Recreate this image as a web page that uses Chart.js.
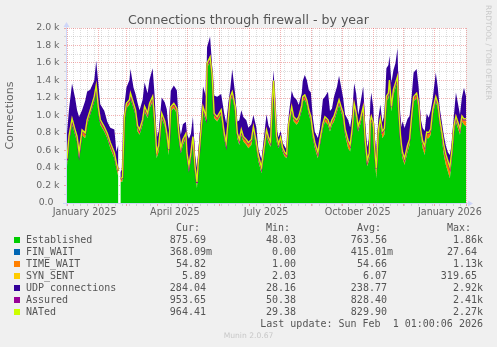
<!DOCTYPE html>
<html>
<head>
<meta charset="utf-8">
<title>Connections through firewall - by year</title>
<script src="https://cdn.jsdelivr.net/npm/chart.js@4.4.1/dist/chart.umd.min.js"></script>
<style>
  html, body { margin: 0; padding: 0; background: #f0f0f0; }
  #wrap { position: relative; width: 497px; height: 347px; overflow: hidden; }
  #graph { position: absolute; left: 0; top: 0; }
  #title {
    position: absolute; left: 0; top: 14px; width: 497px; text-align: center;
    font: 12.6px/12.6px "DejaVu Sans", sans-serif; color: #555;
  }
  #brand {
    position: absolute; left: 492px; top: 5px; transform: rotate(90deg); transform-origin: 0 0;
    font: 7.4px/8px "DejaVu Sans", sans-serif; color: #c8c8c8; white-space: nowrap;
  }
  .row {
    position: absolute; left: 0; width: 497px; height: 12px;
    font: 10px/12px "DejaVu Sans Mono", monospace; color: #555; white-space: pre;
  }
  .row span { position: absolute; top: 0; white-space: pre; }
  .swatch { position: absolute; left: 14px; top: 3.5px; width: 6px; height: 6px; }
  #munin {
    position: absolute; left: 0; width: 497px; top: 331px; text-align: center;
    font: 7.6px/10px "DejaVu Sans", sans-serif; color: #c8c8c8;
  }
</style>
</head>
<body>
<div id="wrap">
  <canvas id="graph" width="497" height="347"></canvas>
  <div id="title">Connections through firewall - by year</div>
  <div id="brand">RRDTOOL / TOBI OETIKER</div>
  <div id="legend"></div>
  <div id="munin">Munin 2.0.67</div>
</div>
<script>
// day 0 = 1 January 2025, day 396 = 1 February 2026
const days = [
  0, 2, 5, 8, 10, 12, 15, 18, 20, 23,
  27, 29, 31, 33, 37, 40, 43, 47, 49, 51,
  52, 53, 55, 57, 59, 62, 63, 66, 68, 70,
  72, 75, 77, 80, 82, 85, 87, 89, 91, 94,
  97, 99, 101, 103, 106, 109, 111, 113, 115, 118,
  119, 121, 123, 125, 127, 129, 130, 133, 135, 138,
  139, 142, 144, 146, 149, 151, 153, 156, 158, 160,
  162, 164, 167, 169, 171, 173, 175, 178, 180, 183,
  185, 188, 190, 193, 195, 198, 200, 202, 204, 205,
  206, 208, 210, 212, 214, 216, 218, 220, 223, 225,
  228, 230, 233, 234, 236, 238, 240, 242, 244, 246,
  249, 251, 254, 256, 259, 261, 263, 265, 268, 270,
  272, 274, 276, 279, 281, 283, 285, 287, 289, 291,
  294, 296, 298, 300, 301, 302, 304, 305, 307, 309,
  311, 313, 315, 317, 319, 320, 322, 324, 326, 328,
  329, 331, 332, 333, 335, 338, 340, 342, 344, 347,
  349, 351, 353, 355, 357, 359, 361, 363, 366, 368,
  370, 372, 374, 376, 378, 380, 382, 384, 386, 388,
  390, 392, 394, 396
];

const established = [
  420, 700, 900, 780, 700, 511, 778, 740, 893, 1008,
  1160, 1294, 1046, 893, 817, 740, 626, 511, 397, 300,
  null, 240, 244, 931, 1084, 1122, 1198, 1084, 1008, 817,
  779, 893, 1046, 970, 1084, 1160, 893, 511, 588, 970,
  880, 740, 550, 1046, 1084, 1027, 740, 569, 664, 740,
  511, 359, 511, 702, 359, 168, 359, 779, 1046, 931,
  1542, 1618, 1428, 970, 931, 970, 1008, 740, 626, 893,
  1160, 1218, 1046, 740, 664, 779, 702, 664, 626, 664,
  817, 626, 473, 340, 511, 779, 690, 640, 1150, 1351,
  1122, 702, 626, 700, 588, 531, 511, 855, 1046, 931,
  893, 931, 1061, 1160, 1179, 1122, 1008, 931, 740, 626,
  511, 664, 855, 931, 893, 817, 893, 931, 1046, 1122,
  1046, 970, 779, 626, 588, 779, 1084, 970, 817, 893,
  1046, 650, 420, 500, 880, 931, 855, 588, 282, 740,
  893, 740, 779, 1160, 1198, 1351, 1046, 1237, 1313, 1389,
  1046, 702, 588, 511, 435, 588, 664, 931, 1160, 1198,
  1084, 779, 626, 550, 740, 740, 779, 1008, 1160, 1084,
  893, 740, 550, 435, 359, 282, 511, 817, 931, 855,
  779, 931, 893, 876
];

const finWait = [
  0.5, 0.4, 0.3, 0.4, 0.6, 0.4, 0.3, 0.4, 0.5, 0.4,
  0.3, 0.4, 0.4, 0.5, 0.4, 0.3, 0.4, 0.4, 0.6, 0.4,
  null, 0.3, 0.4, 0.5, 0.4, 0.4, 0.3, 0.4, 0.5, 0.4,
  0.4, 0.3, 0.5, 0.4, 0.4, 0.6, 0.4, 0.3, 0.4, 0.4,
  0.5, 0.4, 0.3, 0.4, 0.4, 0.5, 0.4, 0.4, 0.3, 0.4,
  0.4, 0.5, 0.4, 0.3, 0.4, 0.6, 0.4, 0.4, 0.5, 0.4,
  0.3, 0.4, 0.4, 0.5, 0.4, 0.3, 0.4, 0.4, 0.5, 0.4,
  0.4, 0.3, 0.4, 0.5, 0.4, 0.4, 0.3, 0.4, 0.6, 0.4,
  0.4, 0.5, 0.4, 0.3, 0.4, 0.4, 0.5, 0.4, 0.3, 0.4,
  0.4, 0.4, 0.5, 0.4, 0.3, 0.4, 0.4, 0.5, 0.4, 0.4,
  0.3, 0.4, 0.5, 0.4, 0.4, 0.3, 0.4, 0.5, 0.4, 0.4,
  0.4, 0.3, 0.4, 0.5, 0.4, 0.4, 0.6, 0.4, 0.3, 0.4,
  0.4, 0.5, 0.4, 0.4, 0.3, 0.4, 0.5, 0.4, 0.4, 0.3,
  0.4, 0.4, 0.5, 0.4, 0.3, 0.4, 0.4, 0.5, 0.4, 0.4,
  0.3, 0.4, 0.4, 0.5, 0.4, 0.4, 0.3, 0.4, 0.5, 0.4,
  0.4, 0.3, 0.4, 0.4, 0.5, 0.4, 0.4, 0.3, 0.4, 0.5,
  0.4, 0.4, 0.3, 0.4, 0.5, 0.4, 0.4, 0.3, 0.4, 0.4,
  0.5, 0.4, 0.3, 0.4, 0.4, 0.5, 0.4, 0.4, 0.3, 0.4,
  0.4, 0.4, 0.3, 0.37
];

const timeWait = [
  70, 55, 50, 45, 50, 60, 45, 50, 45, 40,
  45, 40, 50, 50, 45, 45, 50, 55, 50, 60,
  null, 30, 35, 50, 45, 45, 45, 45, 45, 55,
  50, 45, 45, 45, 45, 45, 50, 70, 60, 45,
  45, 50, 55, 45, 45, 45, 50, 50, 50, 45,
  55, 60, 55, 50, 55, 60, 55, 45, 45, 45,
  40, 40, 35, 45, 45, 45, 45, 50, 50, 45,
  40, 40, 45, 50, 50, 50, 50, 50, 55, 50,
  45, 55, 55, 60, 55, 45, 50, 50, 40, 40,
  45, 50, 40, 40, 35, 40, 35, 40, 45, 45,
  45, 45, 45, 45, 45, 45, 50, 50, 55, 55,
  60, 50, 45, 45, 50, 50, 50, 50, 45, 45,
  45, 50, 60, 80, 70, 55, 45, 50, 50, 50,
  45, 55, 60, 60, 45, 45, 50, 80, 100, 80,
  60, 70, 60, 45, 45, 45, 50, 45, 45, 45,
  50, 55, 60, 60, 65, 60, 55, 45, 45, 45,
  45, 50, 70, 90, 60, 55, 55, 45, 45, 45,
  50, 60, 100, 110, 110, 120, 80, 55, 50, 55,
  60, 55, 60, 55
];

const synSent = [
  6.2, 5.9, 6.1, 6.4, 5.8, 6.0, 6.3, 5.9, 6.1, 6.0,
  5.8, 6.2, 6.0, 6.1, 5.9, 6.3, 6.0, 5.8, 6.2, 6.1,
  null, 5.9, 6.0, 6.2, 6.1, 5.8, 6.0, 6.3, 5.9, 6.1,
  6.0, 6.2, 5.9, 6.1, 6.0, 5.8, 6.2, 6.4, 6.0, 6.1,
  5.9, 6.0, 6.2, 6.1, 5.8, 6.0, 6.3, 5.9, 6.1, 6.0,
  6.2, 6.0, 5.9, 6.1, 6.0, 6.3, 5.8, 6.1, 6.0, 6.2,
  5.9, 6.1, 6.0, 6.2, 5.8, 6.0, 6.1, 6.3, 5.9, 6.0,
  6.1, 6.0, 6.2, 5.9, 6.1, 6.0, 5.8, 6.2, 6.0, 6.1,
  6.0, 6.2, 5.9, 6.1, 6.3, 6.0, 5.8, 6.1, 6.0, 6.2,
  5.9, 6.0, 6.1, 6.2, 5.8, 6.0, 6.1, 5.9, 6.3, 6.0,
  6.1, 6.0, 6.2, 5.9, 6.1, 6.0, 5.8, 6.2, 6.0, 6.1,
  6.0, 6.3, 5.9, 6.1, 6.0, 6.2, 5.8, 6.1, 6.0, 6.2,
  5.9, 6.1, 6.0, 6.2, 6.4, 6.0, 6.1, 5.9, 6.0, 6.2,
  6.1, 6.0, 5.8, 6.2, 6.0, 6.1, 5.9, 6.3, 6.5, 6.1,
  6.0, 6.2, 5.9, 6.1, 6.0, 5.8, 6.2, 6.0, 6.1, 6.0,
  6.2, 5.9, 6.1, 6.0, 6.3, 5.8, 6.1, 6.0, 6.2, 5.9,
  6.1, 6.0, 6.2, 6.4, 6.0, 6.1, 5.9, 6.0, 6.2, 6.1,
  6.0, 5.8, 6.3, 6.4, 6.2, 6.5, 6.1, 6.0, 5.9, 6.1,
  6.0, 6.2, 5.9, 5.89
];

const udp = [
  303, 309, 409, 371, 303, 405, 234, 370, 329, 239,
  185, 286, 274, 179, 185, 138, 179, 269, 131, 303,
  null, 78, 104, 131, 185, 233, 281, 185, 185, 268,
  226, 233, 280, 233, 280, 329, 274, 154, 166, 184,
  221, 275, 220, 185, 209, 209, 131, 154, 179, 138,
  220, 309, 220, 226, 124, 166, 124, 136, 233, 233,
  191, 239, 101, 208, 233, 208, 185, 228, 226, 185,
  96, 263, 138, 131, 226, 226, 226, 226, 173, 179,
  138, 173, 78, 94, 125, 185, 140, 140, 140, 120,
  138, 84, 79, 78, 60, 71, 55, 96, 185, 233,
  233, 138, 143, 185, 233, 233, 226, 275, 173, 125,
  166, 131, 280, 233, 323, 179, 131, 226, 233, 280,
  233, 178, 166, 236, 201, 173, 233, 226, 131, 179,
  233, 184, 153, 178, 221, 281, 179, 141, 164, 141,
  166, 106, 166, 329, 329, 280, 274, 233, 233, 329,
  226, 220, 214, 358, 351, 309, 268, 233, 281, 281,
  185, 130, 154, 176, 215, 173, 220, 136, 281, 185,
  131, 119, 115, 104, 104, 139, 94, 125, 275, 220,
  166, 220, 358, 284
];

const assured = [
  490, 755, 950, 825, 752, 570, 830, 795, 940, 1050,
  1200, 1330, 1100, 945, 860, 790, 680, 570, 450, 365,
  null, 275, 285, 985, 1135, 1170, 1250, 1130, 1055, 880,
  830, 945, 1095, 1020, 1135, 1210, 945, 590, 650, 1020,
  930, 795, 610, 1095, 1135, 1075, 795, 625, 720, 790,
  570, 420, 570, 755, 420, 230, 420, 830, 1095, 980,
  1585, 1660, 1465, 1020, 980, 1020, 1055, 795, 680, 945,
  1205, 1260, 1095, 795, 720, 835, 755, 720, 685, 720,
  865, 685, 535, 405, 570, 830, 745, 695, 1195, 1395,
  1170, 760, 670, 745, 630, 575, 550, 900, 1095, 980,
  945, 980, 1110, 1210, 1230, 1170, 1060, 985, 800, 685,
  575, 720, 905, 980, 945, 870, 945, 985, 1095, 1170,
  1095, 1025, 840, 710, 660, 840, 1135, 1025, 870, 945,
  1095, 710, 485, 565, 930, 985, 910, 675, 390, 825,
  960, 815, 845, 1210, 1250, 1400, 1100, 1290, 1365, 1440,
  1100, 765, 655, 575, 505, 655, 725, 980, 1210, 1250,
  1135, 835, 700, 645, 805, 800, 840, 1060, 1210, 1135,
  950, 805, 655, 550, 475, 405, 595, 875, 985, 915,
  845, 990, 955, 954
];

const nated = [
  505, 768, 965, 838, 760, 580, 835, 800, 950, 1060,
  1215, 1345, 1105, 955, 870, 795, 690, 575, 455, 370,
  null, 280, 290, 990, 1140, 1180, 1255, 1140, 1065, 885,
  840, 950, 1105, 1025, 1140, 1220, 955, 585, 655, 1025,
  935, 800, 615, 1100, 1140, 1080, 800, 630, 725, 795,
  575, 430, 575, 760, 425, 240, 425, 835, 1100, 990,
  1595, 1670, 1470, 1025, 985, 1025, 1065, 800, 690, 950,
  1210, 1270, 1100, 800, 725, 840, 760, 725, 690, 725,
  870, 690, 540, 410, 575, 835, 750, 700, 1200, 1400,
  1175, 765, 675, 750, 635, 580, 555, 905, 1100, 985,
  950, 985, 1115, 1215, 1235, 1175, 1065, 990, 805, 690,
  580, 725, 910, 985, 950, 875, 950, 990, 1100, 1180,
  1100, 1030, 845, 715, 665, 845, 1140, 1030, 875, 950,
  1100, 715, 490, 570, 935, 990, 915, 680, 395, 830,
  965, 820, 850, 1220, 1255, 1405, 1105, 1295, 1370, 1445,
  1105, 770, 660, 580, 510, 660, 730, 985, 1215, 1255,
  1140, 840, 705, 650, 810, 805, 845, 1065, 1215, 1140,
  955, 810, 660, 555, 480, 410, 600, 880, 990, 920,
  850, 995, 960, 964
];

// legend table
const seriesNames = ['Established', 'FIN_WAIT', 'TIME_WAIT', 'SYN_SENT', 'UDP connections', 'Assured', 'NATed'];
const seriesColors = ['#00CC00', '#0066B3', '#FF8000', '#FFCC00', '#330099', '#990099', '#CCFF00'];
const curValues = ['875.69 ', '368.09m', '54.82 ', '5.89 ', '284.04 ', '953.65 ', '964.41 '];
const minValues = ['48.03 ', '0.00 ', '1.00 ', '2.03 ', '28.16 ', '50.38 ', '29.38 '];
const avgValues = ['763.56 ', '415.01m', '54.66 ', '6.07 ', '238.77 ', '828.40 ', '829.90 '];
const maxValues = ['1.86k', '27.64 ', '1.13k', '319.65 ', '2.92k', '2.41k', '2.27k'];
const lastUpdate = 'Last update: Sun Feb  1 01:00:06 2026';

// axis labels
const yTickLabels = ['0.0  ', '0.2 k', '0.4 k', '0.6 k', '0.8 k', '1.0 k', '1.2 k', '1.4 k', '1.6 k', '1.8 k', '2.0 k'];
const monthStarts = [0, 31, 59, 90, 120, 151, 181, 212, 243, 273, 304, 334, 365, 396];
const monthLabels = ['January 2025', 'April 2025', 'July 2025', 'October 2025', 'January 2026'];
const monthLabelDays = [17.5, 107, 197.5, 288.5, 380];

const MAJOR = 'rgba(220, 40, 40, 0.36)';
const MINOR = 'rgba(128, 128, 128, 0.27)';
const AXIS = '#CFD6F8';
const FONT = 'DejaVu Sans';

function points(values) {
  return values.map((v, i) => ({ x: days[i], y: v }));
}

// x ticks: weekly minor lines, monthly major lines, and label-only ticks mid-month
const xTickKind = new Map();
for (let d = 6; d < 396; d += 7) xTickKind.set(d, 'week');
monthStarts.forEach(d => xTickKind.set(d, 'month'));
monthLabelDays.forEach((d, i) => xTickKind.set(d, 'label' + i));
const xTickValues = Array.from(xTickKind.keys()).sort((a, b) => a - b);

function xGridColor(ctx) {
  const kind = ctx.tick ? xTickKind.get(ctx.tick.value) : null;
  if (kind === 'month') return MAJOR;
  if (kind === 'week') return MINOR;
  return 'rgba(0,0,0,0)';
}

// white canvas behind the plot, pale axes with arrow heads on top
const rrdFrame = {
  id: 'rrdFrame',
  beforeDraw(chart) {
    const { ctx, chartArea: a } = chart;
    ctx.save();
    ctx.fillStyle = '#ffffff';
    ctx.fillRect(a.left, a.top, a.right - a.left, a.bottom - a.top);
    ctx.restore();
  },
  afterDraw(chart) {
    const { ctx, chartArea: a } = chart;
    ctx.save();
    ctx.strokeStyle = AXIS;
    ctx.fillStyle = AXIS;
    ctx.lineWidth = 1;
    ctx.beginPath();
    ctx.moveTo(a.left - 0.5, a.bottom + 3);
    ctx.lineTo(a.left - 0.5, a.top - 3);
    ctx.moveTo(a.left - 4, a.bottom + 0.5);
    ctx.lineTo(a.right + 4, a.bottom + 0.5);
    ctx.stroke();
    ctx.beginPath();
    ctx.moveTo(a.left - 3.5, a.top - 1);
    ctx.lineTo(a.left - 0.5, a.top - 6);
    ctx.lineTo(a.left + 2.5, a.top - 1);
    ctx.closePath();
    ctx.fill();
    ctx.beginPath();
    ctx.moveTo(a.right + 2, a.bottom - 2.5);
    ctx.lineTo(a.right + 7, a.bottom + 0.5);
    ctx.lineTo(a.right + 2, a.bottom + 3.5);
    ctx.closePath();
    ctx.fill();
    ctx.restore();
  }
};

const NONE = 'rgba(0,0,0,0)';
const stackedValues = [established, finWait, timeWait, synSent, udp];

const datasets = stackedValues.map((values, i) => ({
  label: seriesNames[i],
  data: points(values),
  stack: 'conn',
  order: i + 1,
  fill: i === 0 ? 'origin' : '-1',
  backgroundColor: seriesColors[i],
  borderColor: NONE,
  borderWidth: 0,
  pointRadius: 0,
  tension: 0
}));

datasets.push({
  label: seriesNames[5],
  data: points(assured),
  stack: 'assured',
  order: -1,
  fill: false,
  borderColor: seriesColors[5],
  borderWidth: 2,
  pointRadius: 0,
  tension: 0
});

datasets.push({
  label: seriesNames[6],
  data: points(nated),
  stack: 'nated',
  order: -2,
  fill: false,
  borderColor: seriesColors[6],
  borderWidth: 1.3,
  pointRadius: 0,
  tension: 0
});

new Chart(document.getElementById('graph'), {
  type: 'line',
  data: { datasets },
  options: {
    responsive: false,
    animation: false,
    events: [],
    layout: { padding: { top: 28, right: 31, bottom: 124, left: 0 } },
    plugins: { legend: { display: false }, tooltip: { enabled: false } },
    scales: {
      x: {
        type: 'linear',
        min: 0,
        max: 396,
        z: 1,
        afterFit: s => { s.height = 20; },
        afterBuildTicks: s => { s.ticks = xTickValues.map(v => ({ value: v })); },
        ticks: {
          autoSkip: false,
          maxRotation: 0,
          padding: 1,
          color: '#666',
          font: { family: FONT, size: 9.6 },
          callback: v => {
            const kind = xTickKind.get(v);
            return kind && kind.startsWith('label') ? monthLabels[+kind.slice(5)] : '';
          }
        },
        grid: { color: xGridColor, tickLength: 3 },
        border: { display: false, dash: [1, 1] }
      },
      y: {
        stacked: true,
        min: 0,
        max: 2000,
        z: 1,
        afterFit: s => { s.width = 67; },
        afterBuildTicks: s => {
          s.ticks = [];
          for (let v = 0; v <= 2000; v += 100) s.ticks.push({ value: v });
        },
        ticks: {
          autoSkip: false,
          padding: 4.5,
          color: '#666',
          font: { family: FONT, size: 9.4 },
          callback: v => (v % 200 === 0 ? yTickLabels[v / 200] : '')
        },
        grid: {
          color: ctx => (ctx.tick && ctx.tick.value % 200 === 0 ? MAJOR : MINOR),
          tickLength: 3
        },
        border: { display: false, dash: [1, 1] },
        title: {
          display: true,
          text: 'Connections',
          color: '#666',
          font: { family: FONT, size: 11 },
          padding: { top: 4, bottom: 4 }
        }
      }
    }
  },
  plugins: [rrdFrame]
});

// legend rows below the graph
const legend = document.getElementById('legend');
const colEdges = [212, 302, 393, 483];

function addRow(i, label, cells, color) {
  const row = document.createElement('div');
  row.className = 'row';
  row.style.top = (221.5 + 12 * i) + 'px';
  if (color) {
    const sw = document.createElement('div');
    sw.className = 'swatch';
    sw.style.background = color;
    row.appendChild(sw);
  }
  if (label) {
    const s = document.createElement('span');
    s.style.left = '26px';
    s.textContent = label;
    row.appendChild(s);
  }
  cells.forEach((text, c) => {
    const s = document.createElement('span');
    s.style.right = (497 - colEdges[c]) + 'px';
    s.textContent = text;
    row.appendChild(s);
  });
  legend.appendChild(row);
}

addRow(0, '', ['Cur:  ', 'Min:  ', 'Avg:  ', 'Max:  ']);
seriesNames.forEach((name, i) => {
  addRow(i + 1, name, [curValues[i], minValues[i], avgValues[i], maxValues[i]], seriesColors[i]);
});
addRow(8, '', ['', '', '', lastUpdate]);
</script>
</body>
</html>
